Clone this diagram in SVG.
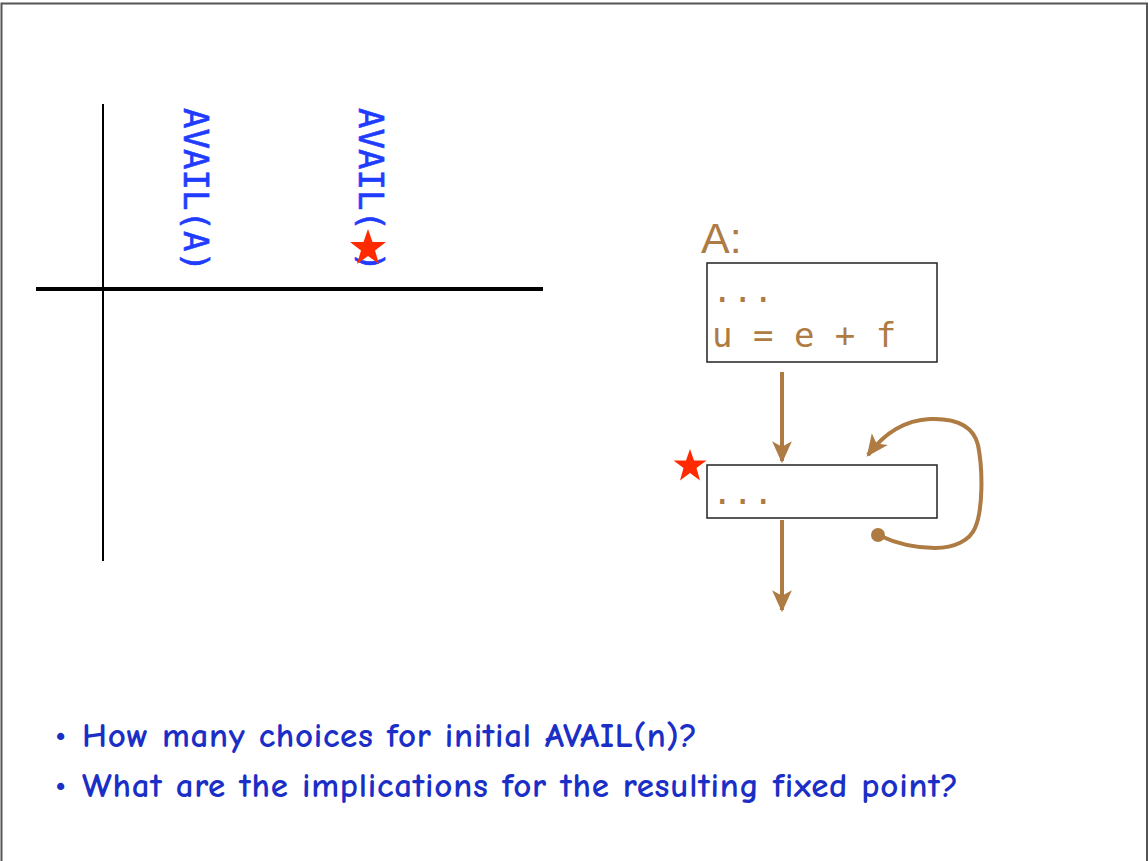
<svg xmlns="http://www.w3.org/2000/svg" width="1148" height="861" viewBox="0 0 1148 861">
<style>
.axis{stroke:#000;fill:none}
.avail{font-family:"DejaVu Sans Mono","Liberation Mono",monospace;font-size:34px;fill:#1f3cff;stroke:#1f3cff;stroke-width:0.6}
.box{fill:#fff;stroke:#222;stroke-width:1.5}
.code{font-family:"DejaVu Sans Mono","Liberation Mono",monospace;font-size:34px;fill:#ae7b43}
.edge{stroke:#ae7b43;stroke-width:4;fill:none}
.star{fill:#ff2a00}
.bullet{font-family:"Comic Neue","Lato","Noto Sans",sans-serif;font-size:35px;font-weight:700;fill:#1b2fc6}
</style>
<defs>
<marker id="arr" markerUnits="userSpaceOnUse" markerWidth="22" markerHeight="22" viewBox="0 0 20 20" refX="18" refY="10" orient="auto">
<path d="M0,1 L20,10 L0,19 L5,10 Z" fill="#ae7b43"/>
</marker>
</defs>
<rect width="1148" height="861" fill="#fff"/>
<path d="M1.5,861 V3.5 H1147 V861" fill="none" stroke="#555" stroke-width="2"/>

<g id="table">
<line class="axis" x1="103" y1="104" x2="103" y2="561" stroke-width="2"/>
<line class="axis" x1="36" y1="289" x2="543" y2="289" stroke-width="4"/>
<text class="avail" transform="translate(184,108) rotate(90)" textLength="164">AVAIL(A)</text>
<text class="avail" transform="translate(359,108) rotate(90)" textLength="164">AVAIL( )</text>
<polygon class="star" transform="translate(368,248)" points="0,-19 4.5,-6 18,-6 7,2.5 11,16 0,8 -11,16 -7,2.5 -18,-6 -4.5,-6"/>
</g>

<g id="nodeA">
<text x="701" y="253" font-family="'Liberation Sans',Arial,sans-serif" font-size="43" fill="#ae7b43">A:</text>
<rect class="box" x="707" y="263" width="230" height="99"/>
<text class="code" x="712" y="302">...</text>
<text class="code" x="712" y="347">u = e + f</text>
</g>

<g id="nodeB">
<rect class="box" x="707" y="465" width="230" height="53"/>
<text class="code" x="712" y="504">...</text>
<polygon class="star" transform="translate(690,466)" points="0,-17 4,-5.5 16.5,-5.5 6.5,2 10,14.5 0,7 -10,14.5 -6.5,2 -16.5,-5.5 -4,-5.5"/>
</g>

<g id="connectors">
<line class="edge" x1="782" y1="372" x2="782" y2="461" marker-end="url(#arr)"/>
<line class="edge" x1="782" y1="520" x2="782" y2="610" marker-end="url(#arr)"/>
<circle cx="878" cy="535" r="7" fill="#ae7b43"/>
<path class="edge" d="M878,535 C895,543 915,548 935,548 C955,548 970,540 975,528 C983,510 983,470 978,445 C973,425 955,418 930,419 C910,420 888,428 868,455" marker-end="url(#arr)"/>
</g>

<g id="bullets">
<text class="bullet" x="55" y="745" font-size="26">•</text>
<text class="bullet" x="82" y="747" textLength="615">How many choices for initial AVAIL(n)?</text>
<text class="bullet" x="55" y="795" font-size="26">•</text>
<text class="bullet" x="82" y="797" textLength="876">What are the implications for the resulting fixed point?</text>
</g>
</svg>
